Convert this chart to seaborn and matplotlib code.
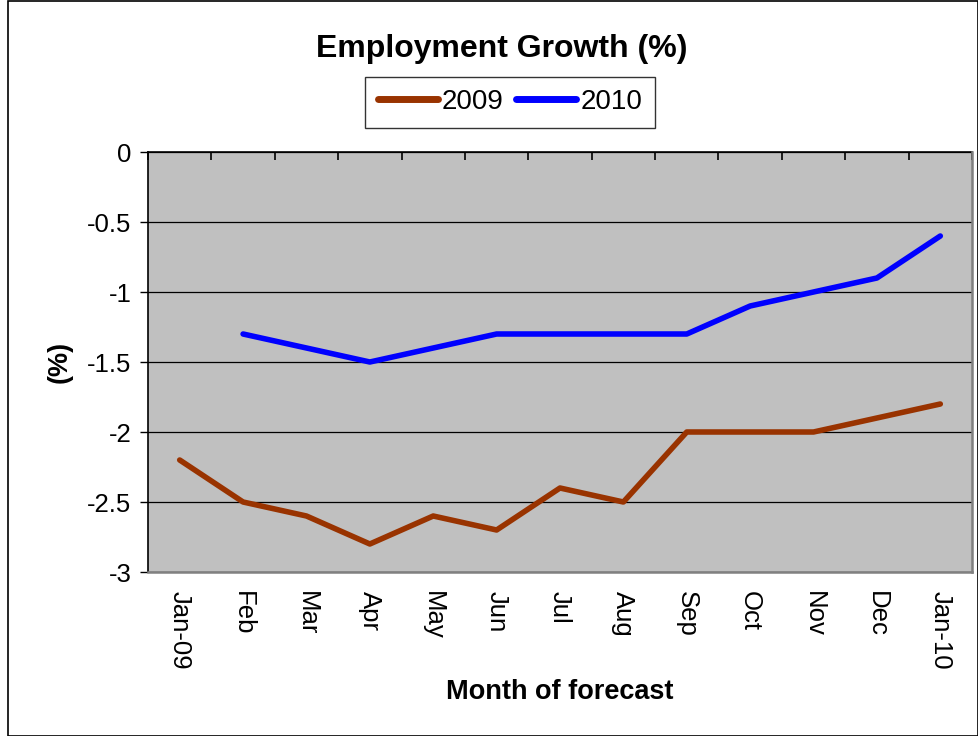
import matplotlib
matplotlib.use("Agg")
import matplotlib.pyplot as plt
import seaborn as sns
import pandas as pd
import numpy as np
from matplotlib.patches import Rectangle

months = ["Jan-09", "Feb", "Mar", "Apr", "May", "Jun", "Jul", "Aug", "Sep", "Oct", "Nov", "Dec", "Jan-10"]
growth_2009 = [-2.2, -2.5, -2.6, -2.8, -2.6, -2.7, -2.4, -2.5, -2.0, -2.0, -2.0, -1.9, -1.8]
growth_2010 = [np.nan, -1.3, -1.4, -1.5, -1.4, -1.3, -1.3, -1.3, -1.3, -1.1, -1.0, -0.9, -0.6]
yticks = [0, -0.5, -1, -1.5, -2, -2.5, -3]
ytick_labels = ["0", "-0.5", "-1", "-1.5", "-2", "-2.5", "-3"]

df = pd.DataFrame({
    "month": months * 2,
    "value": growth_2009 + growth_2010,
    "series": ["2009"] * len(months) + ["2010"] * len(months),
})
df = df.dropna()

sns.set_theme(style="white")
plt.rcParams["font.family"] = ["Liberation Sans", "DejaVu Sans"]
plt.rcParams["text.color"] = "black"
plt.rcParams["axes.labelcolor"] = "black"
plt.rcParams["xtick.color"] = "black"
plt.rcParams["ytick.color"] = "black"

fig = plt.figure(figsize=(9.79, 7.36), dpi=100)
ax = fig.add_axes([148/979, 1-572/736, (972-148)/979, (572-152)/736])
ax.set_facecolor("#C0C0C0")

sns.lineplot(data=df, x="month", y="value", hue="series",
             palette={"2009": "#993300", "2010": "#0000FF"},
             linewidth=4.0, ax=ax, sort=False, estimator=None, zorder=3)

ax.set_xlim(-0.5, len(months) - 0.5)
ax.set_ylim(-3, 0)
ax.set_yticks(yticks)
ax.set_yticklabels(ytick_labels, fontsize=18.5, color="black")
ax.yaxis.grid(True, color="black", linewidth=0.9)
ax.set_axisbelow(True)
ax.tick_params(axis="y", direction="out", length=6, width=1, color="black", left=True, pad=6)

ax.set_xticks(range(len(months)))
ax.set_xticklabels(months, rotation=-90, ha="center", va="top", fontsize=18.5, color="black")
ax.tick_params(axis="x", length=0, pad=14)

# category boundary ticks on the top axis line
top = ax.secondary_xaxis("top")
top.set_xticks(np.arange(-0.5, len(months), 1.0))
top.set_xticklabels([])
top.tick_params(direction="in", length=6, width=1.2, color="black")
top.spines["top"].set_color("black")
top.spines["top"].set_linewidth(1.2)

ax.spines["left"].set_color("black")
ax.spines["left"].set_linewidth(1.2)
for s in ["right", "bottom"]:
    ax.spines[s].set_color("#808080")
    ax.spines[s].set_linewidth(1.8)
ax.spines["top"].set_visible(False)

ax.set_xlabel("Month of forecast", fontsize=19.5, fontweight="bold", color="black")
ax.set_ylabel("(%)", fontsize=19.5, fontweight="bold", color="black")
ax.xaxis.set_label_coords(0.5, (572-692)/420)
ax.yaxis.set_label_coords((60-148)/824, 0.5)
ax.xaxis.label.set_va("center")
ax.yaxis.label.set_va("center")

fig.text(502/979, 1-49/736, "Employment Growth (%)", ha="center", va="center",
         fontsize=23, fontweight="bold", color="black")

leg = ax.legend(loc="center", bbox_to_anchor=((510-148)/824, (572-102)/420),
                ncol=2, frameon=True, fancybox=False, fontsize=20,
                handlelength=2.15, handletextpad=0.15, columnspacing=0.45,
                borderpad=0.45, borderaxespad=0, title=None)
leg.get_frame().set_edgecolor("black")
leg.get_frame().set_linewidth(1.0)
for line in leg.get_lines():
    line.set_linewidth(5)
    line.set_solid_capstyle("round")
for t in leg.get_texts():
    t.set_color("black")

fig.patches.append(Rectangle((8/979, 0), 1 - 8/979 - 0.5/979, 1 - 0.5/736, transform=fig.transFigure,
                             fill=False, edgecolor="black", linewidth=1.2))

fig.savefig("out.png", dpi=100)
